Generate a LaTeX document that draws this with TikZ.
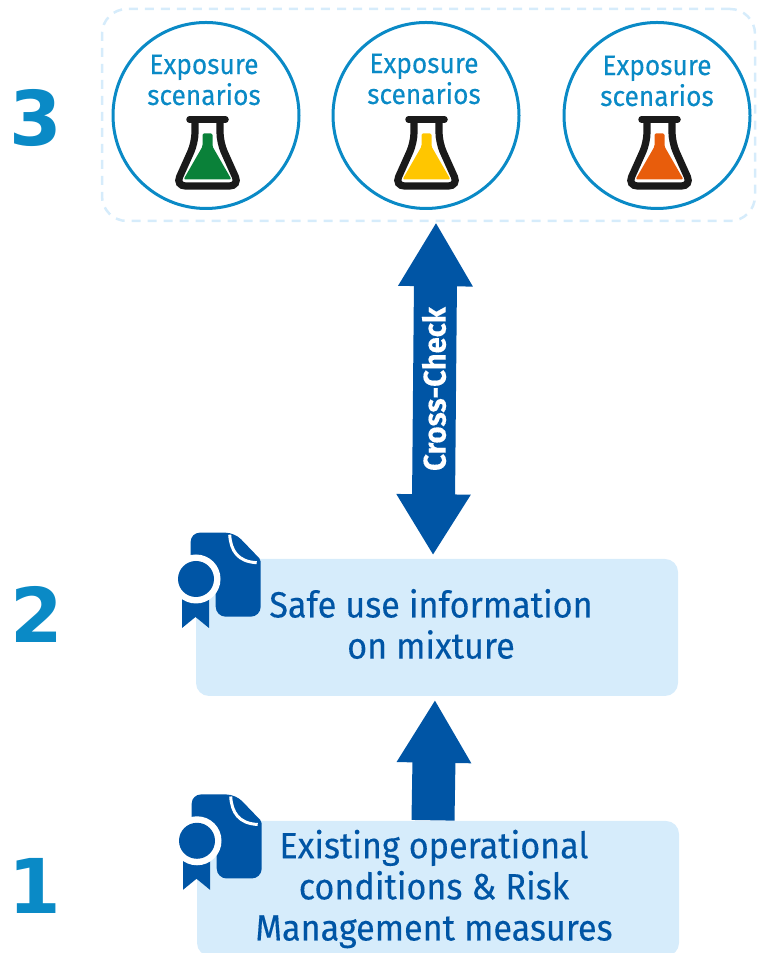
\documentclass[tikz,border=0pt]{standalone}
\usepackage{fontspec}
\setmainfont[FakeStretch=0.935,FakeBold=0.25]{Fira Sans}
\newfontfamily\numfont{DejaVu Sans}
\usetikzlibrary{calc,arrows.meta}
\definecolor{ringblue}{HTML}{0A8AC6}
\definecolor{darkblue}{HTML}{0055A5}
\definecolor{paleblue}{HTML}{D6ECFB}
\definecolor{flaskgreen}{HTML}{0A8139}
\definecolor{flaskyellow}{HTML}{FFC600}
\definecolor{flaskorange}{HTML}{E85D0C}
\definecolor{flaskblack}{HTML}{1A1A1A}
\tikzset{
	stepnum/.style={font=\numfont\bfseries\fontsize{21.5}{24}\selectfont, text=ringblue},
	scenring/.style={circle, draw=ringblue, line width=0.03cm, minimum size=1.86cm, inner sep=0pt},
	scentext/.style={font=\fontsize{8}{8.8}\selectfont, text=ringblue, align=center},
	infobox/.style={fill=paleblue, rounded corners=0.13cm, minimum width=4.82cm, inner sep=0pt},
	infotext/.style={font=\fontsize{10.4}{11.7}\selectfont, text=darkblue, align=center},
	bigarrow/.style={line width=0.43cm, color=darkblue},
}
\def\flask(#1)#2{
	\begin{scope}[shift={(#1)}]
		\draw[flaskblack, line width=0.072cm, rounded corners=0.1cm] (-0.125, -0.07) -- (-0.125, -0.27) -- (-0.32, -0.705) -- (0.32, -0.705) -- (0.125, -0.27) -- (0.125, -0.07);
		\draw[flaskblack, line width=0.065cm, line cap=round] (-0.18, -0.04) -- (0.18, -0.04);
		\fill[#2, rounded corners=0.015cm] (-0.05, -0.18) -- (-0.05, -0.31) -- (-0.24, -0.64) -- (0.24, -0.64) -- (0.05, -0.31) -- (0.05, -0.18) -- cycle;
	\end{scope}
}
\def\certificate(#1){
	\begin{scope}[shift={(#1)}]
		\fill[darkblue, rounded corners=0.09cm] (0, -0.5) -- (0, 0) -- (0.44, 0) [rounded corners=0.02cm] -- (0.70, -0.27) [rounded corners=0.1cm] -- (0.70, -0.84) -- (0.25, -0.84) -- (0.25, -0.5) -- cycle;
		\draw[white, line width=0.03cm] (0.39, -0.02) .. controls (0.40, -0.18) and (0.47, -0.29) .. (0.66, -0.30);
		\fill[darkblue] (-0.087, -0.6) -- (0.183, -0.6) -- (0.183, -0.953) -- (0.048, -0.843) -- (-0.087, -0.953) -- cycle;
		\fill[white] (0.053, -0.463) circle (0.245);
		\fill[darkblue] (0.053, -0.463) circle (0.18);
	\end{scope}
}
\begin{document}
\begin{tikzpicture}
	\useasboundingbox (0, 0) rectangle (7.57, 9.53);
	
	% top group
	\node[draw=paleblue, line width=0.025cm, dash pattern=on 0.09cm off 0.07cm, rounded corners=0.25cm, minimum width=6.53cm, minimum height=2.12cm, inner sep=0pt] (scenarios) at (4.285, 8.38) {};
	
	\node[scenring] (scenA) at (2.06, 8.375) {};
	\node[scentext] (scenAtext) at (2.04, 8.73) {Exposure\\scenarios};
	\flask(2.075, 8.375){flaskgreen}
	
	\node[scenring] (scenB) at (4.26, 8.375) {};
	\node[scentext] (scenBtext) at (4.24, 8.74) {Exposure\\scenarios};
	\flask(4.265, 8.375){flaskyellow}
	
	\node[scenring] (scenC) at (6.57, 8.375) {};
	\node[scentext] (scenCtext) at (6.57, 8.72) {Exposure\\scenarios};
	\flask(6.595, 8.375){flaskorange}
	
	% boxes
	\node[infobox, minimum height=1.37cm] (safeuse) at (4.37, 3.255) {};
	\node[infobox, minimum height=1.35cm] (existing) at (4.38, 0.645) {};
	\certificate(1.907, 4.203)
	\certificate(1.917, 1.585)
	\node[infotext] (safetext) at (4.31, 3.29) {Safe use information\\on mixture};
	\node[infotext] (existingtext) at (4.34, 0.64) {Existing operational\\conditions \& Risk\\Management measures};
	
	% arrows
	\draw[bigarrow, shorten >=0.03cm, {Triangle[length=0.64cm, width=0.70cm]}-{Triangle[length=0.61cm, width=0.70cm]}] ($(scenarios.south)+(0.075, 0)$) -- ($(safeuse.north)+(-0.04, 0)$);
	\draw[bigarrow, shorten >=0.03cm, -{Triangle[length=0.63cm, width=0.70cm]}] ($(existing.north)+(-0.05, 0)$) -- ($(safeuse.south)+(-0.02, 0)$);
	\node[rotate=90, text=white, font=\bfseries\fontsize{8.9}{10}\selectfont] (crosscheck) at (4.34, 5.64) {Cross-Check};
	
	% numbers
	\node[stepnum] (numthree) at (0.36, 8.35) {3};
	\node[stepnum] (numtwo) at (0.365, 3.39) {2};
	\node[stepnum] (numone) at (0.35, 0.67) {1};
\end{tikzpicture}
\end{document}
